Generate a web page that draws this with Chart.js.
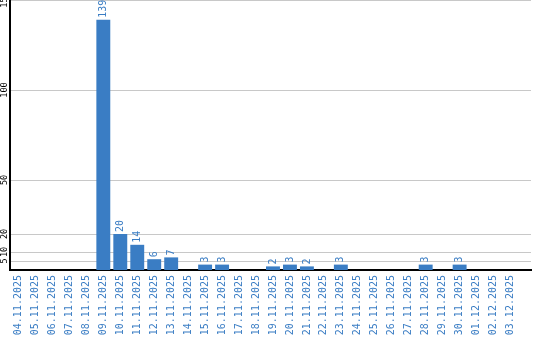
<!DOCTYPE html>
<html>
<head>
    <title>Daily counts</title>
    <style>
        body {
            margin: 0;
            padding: 0;
            background-color: #ffffff;
        }
        #wrap {
            width: 540px;
            height: 340px;
        }
    </style>
    <script src="https://cdn.jsdelivr.net/npm/chart.js"></script>
</head>
<body>
    <div id="wrap"><canvas id="dailyChart" width="540" height="340"></canvas></div>
    <script>
        // values
        const days = [
            '04.11.2025', '05.11.2025', '06.11.2025', '07.11.2025', '08.11.2025',
            '09.11.2025', '10.11.2025', '11.11.2025', '12.11.2025', '13.11.2025',
            '14.11.2025', '15.11.2025', '16.11.2025', '17.11.2025', '18.11.2025',
            '19.11.2025', '20.11.2025', '21.11.2025', '22.11.2025', '23.11.2025',
            '24.11.2025', '25.11.2025', '26.11.2025', '27.11.2025', '28.11.2025',
            '29.11.2025', '30.11.2025', '01.12.2025', '02.12.2025', '03.12.2025'
        ];
        const counts = [
            0, 0, 0, 0, 0,
            139, 20, 14, 6, 7,
            0, 3, 3, 0, 0,
            2, 3, 2, 0, 3,
            0, 0, 0, 0, 3,
            0, 3, 0, 0, 0
        ];
        const yTicks = [5, 10, 20, 50, 100, 150];

        const blue = '#3a7dc4';
        const mono = 'DejaVu Sans Mono';

        // bars stop a little before the right end of the grid lines
        const shortenX = {
            id: 'shortenX',
            afterLayout(chart) {
                const x = chart.scales.x;
                x._endPixel = x.right - 12;
                x._length = x._endPixel - x._startPixel;
            }
        };

        // rotated value above each non-zero bar
        const valueLabels = {
            id: 'valueLabels',
            afterDatasetsDraw(chart) {
                const ctx = chart.ctx;
                const meta = chart.getDatasetMeta(0);
                ctx.save();
                ctx.fillStyle = blue;
                ctx.font = '10px "' + mono + '"';
                ctx.textAlign = 'left';
                ctx.textBaseline = 'middle';
                meta.data.forEach((bar, i) => {
                    if (!counts[i]) return;
                    ctx.save();
                    ctx.translate(bar.x, bar.y - 2);
                    ctx.rotate(-Math.PI / 2);
                    ctx.fillText(String(counts[i]), 0, 0);
                    ctx.restore();
                });
                ctx.restore();
            }
        };

        new Chart(document.getElementById('dailyChart'), {
            type: 'bar',
            data: {
                labels: days,
                datasets: [{
                    data: counts,
                    backgroundColor: blue,
                    borderWidth: 0,
                    barPercentage: 0.82,
                    categoryPercentage: 1.0
                }]
            },
            options: {
                responsive: false,
                animation: false,
                events: [],
                layout: { padding: { top: 0, right: 9, bottom: 0, left: 0 } },
                plugins: {
                    legend: { display: false },
                    tooltip: { enabled: false }
                },
                scales: {
                    x: {
                        grid: { display: false, drawTicks: false },
                        border: { display: true, color: '#000000', width: 2 },
                        ticks: {
                            color: blue,
                            font: { family: mono, size: 10 },
                            minRotation: 90,
                            maxRotation: 90,
                            autoSkip: false,
                            padding: 5
                        },
                        afterFit(s) {
                            s.height = 70;
                            s.paddingLeft = 0;
                            s.paddingRight = 0;
                        }
                    },
                    y: {
                        min: 0,
                        max: 150,
                        grid: { color: '#c8c8c8', lineWidth: 1, drawTicks: false },
                        border: { display: true, color: '#000000', width: 2 },
                        ticks: {
                            color: '#000000',
                            font: { family: mono, size: 8.5 },
                            minRotation: 90,
                            maxRotation: 90,
                            crossAlign: 'center',
                            padding: -2
                        },
                        afterBuildTicks(s) {
                            s.ticks = yTicks.map(v => ({ value: v }));
                        },
                        afterFit(s) {
                            s.width = 10;
                            s.paddingTop = 0;
                            s.paddingBottom = 0;
                        }
                    }
                }
            },
            plugins: [shortenX, valueLabels]
        });
    </script>
</body>
</html>
